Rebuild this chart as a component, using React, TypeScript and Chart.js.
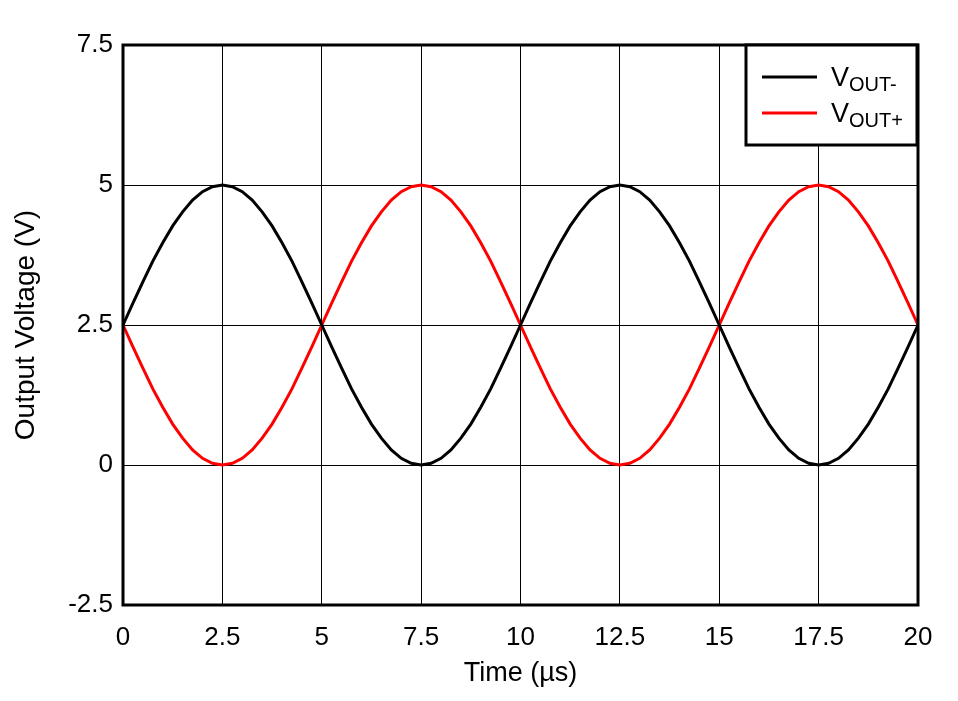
import React, { useEffect, useRef } from "react";
import { Chart, registerables } from "chart.js";

Chart.register(...registerables);

const timeUs = [
  0, 0.25, 0.5, 0.75, 1, 1.25, 1.5, 1.75, 2, 2.25, 2.5, 2.75, 3, 3.25, 3.5, 3.75, 4, 4.25, 4.5, 4.75,
  5, 5.25, 5.5, 5.75, 6, 6.25, 6.5, 6.75, 7, 7.25, 7.5, 7.75, 8, 8.25, 8.5, 8.75, 9, 9.25, 9.5, 9.75,
  10, 10.25, 10.5, 10.75, 11, 11.25, 11.5, 11.75, 12, 12.25, 12.5, 12.75, 13, 13.25, 13.5, 13.75, 14, 14.25, 14.5, 14.75,
  15, 15.25, 15.5, 15.75, 16, 16.25, 16.5, 16.75, 17, 17.25, 17.5, 17.75, 18, 18.25, 18.5, 18.75, 19, 19.25, 19.5, 19.75,
  20,
];
const vOutMinus = [
  2.5, 2.89, 3.27, 3.64, 3.97, 4.27, 4.52, 4.73, 4.88, 4.97, 5.0, 4.97, 4.88, 4.73, 4.52, 4.27, 3.97, 3.64, 3.27, 2.89,
  2.5, 2.11, 1.73, 1.36, 1.03, 0.73, 0.48, 0.27, 0.12, 0.03, 0.0, 0.03, 0.12, 0.27, 0.48, 0.73, 1.03, 1.36, 1.73, 2.11,
  2.5, 2.89, 3.27, 3.64, 3.97, 4.27, 4.52, 4.73, 4.88, 4.97, 5.0, 4.97, 4.88, 4.73, 4.52, 4.27, 3.97, 3.64, 3.27, 2.89,
  2.5, 2.11, 1.73, 1.36, 1.03, 0.73, 0.48, 0.27, 0.12, 0.03, 0.0, 0.03, 0.12, 0.27, 0.48, 0.73, 1.03, 1.36, 1.73, 2.11,
  2.5,
];
const vOutPlus = [
  2.5, 2.11, 1.73, 1.36, 1.03, 0.73, 0.48, 0.27, 0.12, 0.03, 0.0, 0.03, 0.12, 0.27, 0.48, 0.73, 1.03, 1.36, 1.73, 2.11,
  2.5, 2.89, 3.27, 3.64, 3.97, 4.27, 4.52, 4.73, 4.88, 4.97, 5.0, 4.97, 4.88, 4.73, 4.52, 4.27, 3.97, 3.64, 3.27, 2.89,
  2.5, 2.11, 1.73, 1.36, 1.03, 0.73, 0.48, 0.27, 0.12, 0.03, 0.0, 0.03, 0.12, 0.27, 0.48, 0.73, 1.03, 1.36, 1.73, 2.11,
  2.5, 2.89, 3.27, 3.64, 3.97, 4.27, 4.52, 4.73, 4.88, 4.97, 5.0, 4.97, 4.88, 4.73, 4.52, 4.27, 3.97, 3.64, 3.27, 2.89,
  2.5,
];
const xTicks = [0, 2.5, 5, 7.5, 10, 12.5, 15, 17.5, 20];
const yTicks = [-2.5, 0, 2.5, 5, 7.5];
const seriesNames = ["OUT-", "OUT+"];
const seriesColors = ["#000000", "#ff0000"];
const xTitle = "Time (µs)";
const yTitle = "Output Voltage (V)";

const FONT = "'Liberation Sans', Arial, sans-serif";

const framePlugin = {
  id: "frameAndLegend",
  afterDraw(chart: any) {
    const { ctx, chartArea } = chart;
    const { left, top, right, bottom } = chartArea;
    ctx.save();
    ctx.strokeStyle = "#000";
    ctx.lineWidth = 3;
    ctx.strokeRect(left, top, right - left, bottom - top);

    // legend box
    const bx = 746, by = 45, bw = 171, bh = 100;
    ctx.fillStyle = "#fff";
    ctx.fillRect(bx, by, bw, bh);
    ctx.lineWidth = 3;
    ctx.strokeRect(bx, by, bw, bh);
    const rows = [77, 113];
    seriesNames.forEach((name, i) => {
      const y = rows[i];
      ctx.strokeStyle = seriesColors[i];
      ctx.lineWidth = 3;
      ctx.beginPath();
      ctx.moveTo(762, y);
      ctx.lineTo(817, y);
      ctx.stroke();
      ctx.fillStyle = "#000";
      ctx.textAlign = "left";
      ctx.textBaseline = "alphabetic";
      ctx.font = `27px ${FONT}`;
      ctx.fillText("V", 831, y + 9);
      const vw = ctx.measureText("V").width;
      ctx.font = `20px ${FONT}`;
      ctx.fillText(name, 831 + vw, y + 14);
    });
    ctx.restore();
  },
};

export default function App() {
  const ref = useRef<HTMLCanvasElement | null>(null);
  useEffect(() => {
    document.body.style.margin = "0";
    const canvas = ref.current!;
    const chart = new Chart(canvas, {
      type: "line",
      data: {
        datasets: [
          {
            label: "VOUT-",
            data: timeUs.map((t, i) => ({ x: t, y: vOutMinus[i] })),
            borderColor: seriesColors[0],
            borderWidth: 3,
            pointRadius: 0,
            tension: 0,
          },
          {
            label: "VOUT+",
            data: timeUs.map((t, i) => ({ x: t, y: vOutPlus[i] })),
            borderColor: seriesColors[1],
            borderWidth: 3,
            pointRadius: 0,
            tension: 0,
          },
        ],
      },
      options: {
        responsive: false,
        animation: false,
        layout: { padding: { left: 0, right: 40, top: 45, bottom: 0 } },
        plugins: { legend: { display: false }, tooltip: { enabled: false } },
        scales: {
          x: {
            type: "linear",
            min: 0,
            max: 20,
            afterBuildTicks: (s: any) => {
              s.ticks = xTicks.map((v) => ({ value: v }));
            },
            afterFit: (s: any) => {
              s.height = 96;
            },
            grid: { color: "#000", lineWidth: 1, drawTicks: false },
            border: { display: false },
            ticks: {
              color: "#000",
              font: { family: FONT, size: 26 },
              padding: 17,
              maxRotation: 0,
              callback: (v: any) => String(v),
            },
            title: {
              display: true,
              text: xTitle,
              color: "#000",
              font: { family: FONT, size: 27 },
              padding: { top: 0, bottom: 11 },
            },
          },
          y: {
            type: "linear",
            min: -2.5,
            max: 7.5,
            afterBuildTicks: (s: any) => {
              s.ticks = yTicks.map((v) => ({ value: v }));
            },
            afterFit: (s: any) => {
              s.width = 123;
            },
            grid: { color: "#000", lineWidth: 1, drawTicks: false },
            border: { display: false },
            ticks: {
              color: "#000",
              font: { family: FONT, size: 26 },
              padding: 10,
              callback: (v: any) => String(v),
            },
            title: {
              display: true,
              text: yTitle,
              color: "#000",
              font: { family: FONT, size: 28 },
              padding: { top: 9, bottom: 0 },
            },
          },
        },
      },
      plugins: [framePlugin],
    } as any);
    return () => chart.destroy();
  }, []);
  return <canvas ref={ref} width={958} height={701} style={{ display: "block" }} />;
}
